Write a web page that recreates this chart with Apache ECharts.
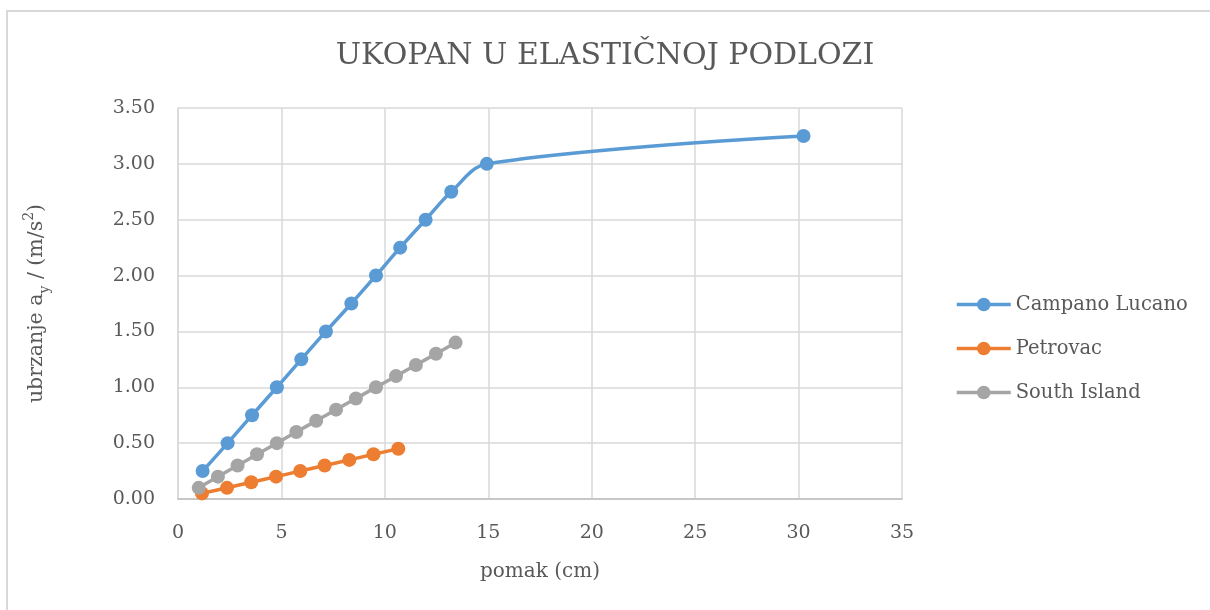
<!DOCTYPE html>
<html>
<head>
<meta charset="utf-8">
<script src="https://cdn.jsdelivr.net/npm/echarts@6/dist/echarts.min.js"></script>
<style>
  html, body { margin: 0; padding: 0; background: #fff; }
  #chart { width: 1210px; height: 610px; }
</style>
</head>
<body>
<div id="chart"></div>
<script>
// Displacement (cm) vs. acceleration (m/s²) for three records
const campanoX = [1.19, 2.40, 3.58, 4.78, 5.96, 7.15, 8.38, 9.57, 10.74, 11.97, 13.21, 14.93, 30.24];
const campanoY = [0.25, 0.50, 0.75, 1.00, 1.25, 1.50, 1.75, 2.00, 2.25, 2.50, 2.75, 3.00, 3.25];

const petrovacX = [1.16, 2.37, 3.54, 4.74, 5.91, 7.09, 8.28, 9.45, 10.65];
const petrovacY = [0.05, 0.10, 0.15, 0.20, 0.25, 0.30, 0.35, 0.40, 0.45];

const southX = [1.00, 1.93, 2.88, 3.82, 4.78, 5.72, 6.68, 7.64, 8.60, 9.57, 10.54, 11.50, 12.47, 13.42];
const southY = [0.10, 0.20, 0.30, 0.40, 0.50, 0.60, 0.70, 0.80, 0.90, 1.00, 1.10, 1.20, 1.30, 1.40];

const seriesNames = ['Campano Lucano', 'Petrovac', 'South Island'];
const seriesColors = ['#5B9BD5', '#ED7D31', '#A5A5A5'];

const chartTitle = 'UKOPAN U ELASTIČNOJ PODLOZI';
const xAxisTitle = 'pomak (cm)';

const font = '"DejaVu Serif", "Liberation Serif", serif';
const textColor = '#595959';

function pairs(xs, ys) {
  return xs.map((x, i) => [x, ys[i]]);
}

const seriesData = [pairs(campanoX, campanoY), pairs(petrovacX, petrovacY), pairs(southX, southY)];

const chart = echarts.init(document.getElementById('chart'), null, { renderer: 'canvas' });

chart.setOption({
  backgroundColor: '#ffffff',
  animation: false,
  graphic: [{
    type: 'rect',
    shape: { x: 7, y: 11, width: 1400, height: 800 },
    style: { fill: 'none', stroke: '#d9d9d9', lineWidth: 2 },
    silent: true
  }],
  title: {
    text: chartTitle,
    left: 'center',
    top: 36,
    textStyle: { fontFamily: font, fontSize: 30, fontWeight: 'normal', color: textColor }
  },
  legend: {
    orient: 'vertical',
    left: 950,
    top: 289,
    itemWidth: 54,
    itemHeight: 17,
    itemGap: 23,
    data: seriesNames,
    lineStyle: { width: 3.5 },
    textStyle: { fontFamily: font, fontSize: 19.5, lineHeight: 21, color: textColor }
  },
  grid: { left: 178, right: 308, top: 108, bottom: 111, containLabel: false },
  xAxis: {
    type: 'value',
    min: 0,
    max: 35,
    interval: 5,
    name: xAxisTitle,
    nameLocation: 'middle',
    nameGap: 63,
    nameTextStyle: { fontFamily: font, fontSize: 20, color: textColor },
    axisLine: { show: true, lineStyle: { color: '#bfbfbf', width: 1.5 } },
    axisTick: { show: false },
    splitLine: { show: true, lineStyle: { color: '#d9d9d9', width: 1.5 } },
    axisLabel: { margin: 25, fontFamily: font, fontSize: 19, color: textColor }
  },
  yAxis: {
    type: 'value',
    min: 0,
    max: 3.5,
    interval: 0.5,
    name: '{n|ubrzanje a}{s|y}{n| / (m/s}{p|2}{n|)}',
    nameLocation: 'middle',
    nameRotate: 90,
    nameGap: 126,
    nameTextStyle: {
      fontFamily: font, fontSize: 20.5, color: textColor,
      rich: {
        n: { fontFamily: font, fontSize: 20.5, color: textColor, lineHeight: 30 },
        s: { fontFamily: font, fontSize: 14, color: textColor, lineHeight: 14, verticalAlign: 'bottom' },
        p: { fontFamily: font, fontSize: 14, color: textColor, lineHeight: 14, verticalAlign: 'top' }
      }
    },
    axisLine: { show: true, lineStyle: { color: '#d9d9d9', width: 1.5 } },
    axisTick: { show: false },
    splitLine: { show: true, lineStyle: { color: '#d9d9d9', width: 1.5 } },
    axisLabel: {
      margin: 23, fontFamily: font, fontSize: 19, color: textColor,
      formatter: v => v.toFixed(2)
    }
  },
  series: seriesNames.map((name, i) => ({
    name,
    type: 'line',
    data: seriesData[i],
    smooth: 0.35,
    symbol: 'circle',
    symbolSize: 14,
    clip: false,
    color: seriesColors[i],
    lineStyle: { width: 3.5, color: seriesColors[i] },
    itemStyle: { color: seriesColors[i] }
  }))
});
</script>
</body>
</html>
